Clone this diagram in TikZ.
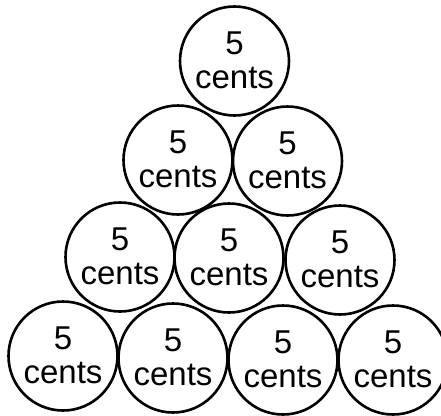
\documentclass[tikz,border=0pt]{standalone}
\usepackage{fontspec}
\setmainfont{Liberation Sans}
\begin{document}
\begin{tikzpicture}[x=1pt,y=-1pt,
  coin/.style={circle,draw=black,line width=2.6pt,minimum size=109pt,inner sep=0pt,
    align=center,font=\fontsize{33}{36}\selectfont,text depth=2pt}]
\useasboundingbox (0,0) rectangle (441,415);
\node[coin] (a1) at (234.5,61) {5\\[-2pt]cents};
\node[coin] (b1) at (178,160) {5\\[-2pt]cents};
\node[coin] (b2) at (287.5,161) {5\\[-2pt]cents};
\node[coin] (c1) at (120,257) {5\\[-2pt]cents};
\node[coin] (c2) at (229,258) {5\\[-2pt]cents};
\node[coin] (c3) at (340,260) {5\\[-2pt]cents};
\node[coin] (d1) at (63,356) {5\\[-2pt]cents};
\node[coin] (d2) at (173,358) {5\\[-2pt]cents};
\node[coin] (d3) at (283,360) {5\\[-2pt]cents};
\node[coin] (d4) at (393,360) {5\\[-2pt]cents};
\end{tikzpicture}
\end{document}
